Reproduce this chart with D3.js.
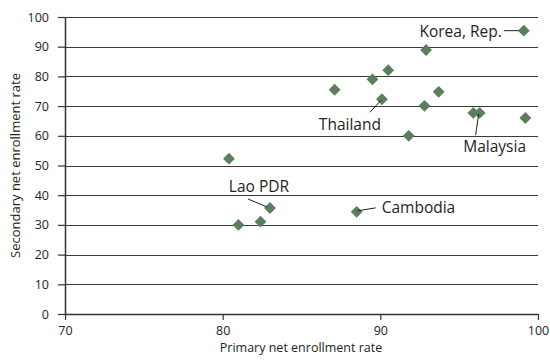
<!DOCTYPE html>
<html>
<head>
<meta charset="utf-8">
<script src="https://cdn.jsdelivr.net/npm/d3@7"></script>
<style>
  body { margin: 0; background: #fff; }
  #chart { width: 550px; height: 360px; }
  text { font-family: "Open Sans", "Noto Sans", sans-serif; fill: #231f20; }
</style>
</head>
<body>
<div id="chart"></div>
<script>
// Primary vs secondary net enrollment rates, East Asia and Pacific
const countries = ['Korea, Rep.', 'c2', 'c3', 'c4', 'c5', 'c6', 'Thailand', 'c8', 'c9', 'Malaysia',
  'c11', 'c12', 'c13', 'Lao PDR', 'c15', 'c16', 'Cambodia'];
const primary = [99.1, 92.9, 90.5, 89.5, 87.1, 93.7, 90.1, 92.8, 95.9, 96.3,
  99.2, 91.8, 80.4, 83.0, 82.4, 81.0, 88.5];
const secondary = [95.4, 88.9, 82.1, 79.0, 75.5, 74.8, 72.3, 70.1, 67.7, 67.7,
  66.0, 60.0, 52.3, 35.7, 31.1, 30.0, 34.4];
const xTicks = [70, 80, 90, 100];
const yTicks = [0, 10, 20, 30, 40, 50, 60, 70, 80, 90, 100];

const container = d3.select('#chart');
const margin = { top: 17, right: 12, bottom: 46, left: 65 };
const fullWidth = 550, fullHeight = 360;
const width = fullWidth - margin.left - margin.right;
const height = fullHeight - margin.top - margin.bottom;

const svg = container.append('svg')
  .attr('width', fullWidth)
  .attr('height', fullHeight)
  .append('g')
  .attr('transform', `translate(${margin.left},${margin.top})`);

const x = d3.scaleLinear().domain([70, 100]).range([0, width]);
const y = d3.scaleLinear().domain([0, 100]).range([height, 0]);

// Gridlines
svg.append('g')
  .selectAll('line')
  .data(yTicks.filter(d => d > 0))
  .join('line')
    .attr('x1', 0).attr('x2', width)
    .attr('y1', d => Math.round(y(d)) + 0.5).attr('y2', d => Math.round(y(d)) + 0.5)
    .attr('stroke', '#3a3a3a').attr('stroke-width', 1);

// Axes
const yAxis = svg.append('g')
  .call(d3.axisLeft(y).tickValues(yTicks).tickSize(7).tickPadding(9));
const xAxis = svg.append('g')
  .attr('transform', `translate(0,${height})`)
  .call(d3.axisBottom(x).tickValues(xTicks).tickSize(6).tickPadding(6));
[yAxis, xAxis].forEach(ax => {
  ax.select('.domain').attr('stroke', '#333').attr('stroke-width', 1.5);
  ax.selectAll('.tick line').attr('stroke', '#333').attr('stroke-width', 1.2);
  ax.selectAll('.tick text').attr('font-size', 12.5).attr('fill', '#231f20')
    .attr('font-family', '"Open Sans", "Noto Sans", sans-serif');
});
yAxis.select('.domain').attr('d', `M0.5,${height}V0`);
xAxis.select('.domain').attr('d', `M0,0.5H${width}`);

// Points
const points = countries.map((c, i) => ({ name: c, px: primary[i], sy: secondary[i] }));
const diamond = d3.symbol().type(d3.symbolSquare).size(70);
svg.append('g')
  .selectAll('path')
  .data(points)
  .join('path')
    .attr('d', diamond)
    .attr('transform', d => `translate(${x(d.px)},${y(d.sy)}) rotate(45)`)
    .attr('fill', '#5b7f5c');

// Annotations: text offset and leader line, relative to the point
const notes = [
  { name: 'Korea, Rep.', tx: -22, ty: 1, anchor: 'end', line: [[-20, 0], [-5, 0]] },
  { name: 'Thailand', tx: -32, ty: 25, anchor: 'middle', line: [[-12, 13], [-1, 1]] },
  { name: 'Malaysia', tx: 15, ty: 34, anchor: 'middle', line: [[-4, 22], [-1, 1]] },
  { name: 'Lao PDR', tx: -11, ty: -21, anchor: 'middle', line: [[-22, -9], [-3, -1]] },
  { name: 'Cambodia', tx: 25, ty: -4, anchor: 'start', line: [[1, -1], [19, -4]] }
];
notes.forEach(n => {
  const p = points.find(d => d.name === n.name);
  const cx = x(p.px), cy = y(p.sy);
  svg.append('line')
    .attr('x1', cx + n.line[0][0]).attr('y1', cy + n.line[0][1])
    .attr('x2', cx + n.line[1][0]).attr('y2', cy + n.line[1][1])
    .attr('stroke', '#231f20').attr('stroke-width', 1);
  svg.append('text')
    .attr('x', cx + n.tx).attr('y', cy + n.ty)
    .attr('dy', '0.35em')
    .attr('text-anchor', n.anchor)
    .attr('font-size', 15.5)
    .text(n.name);
});

// Axis labels
svg.append('text')
  .attr('x', 236).attr('y', height + 38)
  .attr('text-anchor', 'middle').attr('font-size', 12.5)
  .text('Primary net enrollment rate');
svg.append('text')
  .attr('transform', 'rotate(-90)')
  .attr('x', -height / 2).attr('y', -margin.left + 20)
  .attr('text-anchor', 'middle').attr('font-size', 13)
  .text('Secondary net enrollment rate');
</script>
</body>
</html>
